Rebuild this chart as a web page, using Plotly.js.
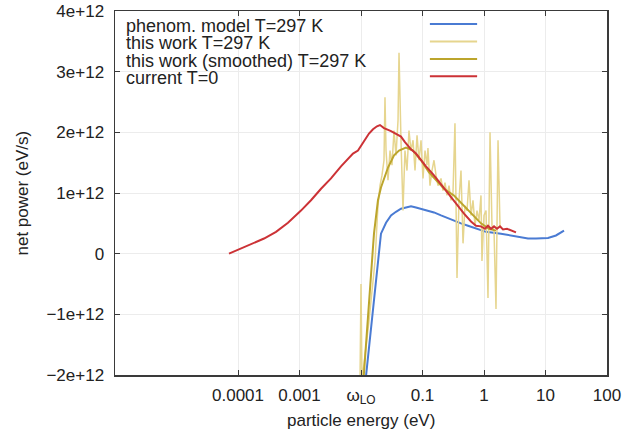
<!DOCTYPE html>
<html>
<head>
<meta charset="utf-8">
<script src="https://cdn.plot.ly/plotly-3.0.1.min.js"></script>
<style>html,body{margin:0;padding:0;background:#fff;}#chart{width:637px;height:436px;}</style>
</head>
<body>
<div id="chart"></div>
<script>
// values in units of 1e12 eV/s, energies in eV
const phenomE = [0.01161,0.02113,0.02552,0.03076,0.03707,0.04467,0.05395,0.06501,0.07834,0.09462,0.1140,0.1538,0.2000,0.2904,0.4227,0.5495,0.7413,1.079,1.888,2.748,4.00,5.19,7.01,10.99,14.8,20.0];
const phenomP = [-2.18,0.33,0.51,0.63,0.69,0.74,0.76,0.78,0.76,0.74,0.71,0.68,0.63,0.56,0.50,0.46,0.41,0.36,0.33,0.30,0.26,0.25,0.25,0.26,0.30,0.38];

const rawE = [0.00964,0.0100,0.01038,0.01349,0.01691,0.01887,0.02037,0.02193,0.02366,0.02455,0.02552,0.02748,0.02965,0.03192,0.03443,0.03707,0.04000,0.04150,0.04467,0.04819,0.05188,0.05598,0.06026,0.06501,0.07015,0.07551,0.08147,0.08770,0.09462,0.1019,0.1099,0.1183,0.1227,0.1324,0.1426,0.1538,0.1660,0.1786,0.2000,0.2153,0.2323,0.2500,0.2698,0.2904,0.3133,0.3373,0.3639,0.3917,0.4227,0.4560,0.4909,0.5297,0.5702,0.6152,0.6622,0.7145,0.7691,0.8299,0.8933,0.9268,1.000,1.079,1.161,1.253,1.349,1.455,1.567,1.690,1.820,1.963];
const rawP = [-2.10,-0.50,-2.10,-1.11,-0.12,0.79,1.12,1.29,1.54,2.58,1.70,1.21,1.70,1.46,2.03,1.62,2.20,3.31,1.87,0.71,1.70,1.37,2.03,1.70,1.87,1.37,1.95,1.54,1.87,1.24,1.70,1.46,1.74,1.12,1.37,1.54,1.29,1.12,1.24,1.04,1.17,0.96,1.12,0.88,1.01,2.15,-0.40,0.88,1.37,0.17,0.79,0.71,1.21,0.63,0.88,0.46,0.71,0.55,0.96,-0.12,0.63,0.71,-0.73,2.00,0.46,0.38,-0.91,1.87,0.46,0.41];

const smoothE = [0.01079,0.01626,0.01887,0.02113,0.02748,0.03443,0.04150,0.05395,0.07015,0.09462,0.1276,0.1660,0.2239,0.3251,0.4732,0.6622,0.8933,1.205,1.567];
const smoothP = [-2.18,0.33,0.88,1.09,1.42,1.62,1.70,1.75,1.70,1.54,1.34,1.21,1.07,0.96,0.79,0.63,0.50,0.41,0.38];

const currentE = [7.14e-5,1.349e-4,2.65e-4,4.15e-4,6.50e-4,1.057e-3,1.538e-3,2.239e-3,3.25e-3,4.73e-3,6.15e-3,7.41e-3,8.93e-3,0.01079,0.01349,0.01567,0.01820,0.02037,0.02366,0.03076,0.03846,0.04467,0.05188,0.06501,0.07834,0.09462,0.1140,0.1538,0.2000,0.2600,0.3508,0.4732,0.6152,0.7413,0.8933,1.038,1.161,1.300,1.455,1.626,1.820,2.036,2.366,2.748,3.311];
const currentP = [0.00,0.12,0.25,0.36,0.51,0.71,0.88,1.07,1.24,1.44,1.57,1.65,1.70,1.82,1.98,2.05,2.10,2.12,2.07,2.02,1.97,1.93,1.84,1.72,1.65,1.54,1.44,1.29,1.14,0.99,0.83,0.66,0.53,0.46,0.45,0.41,0.46,0.41,0.45,0.41,0.45,0.40,0.41,0.38,0.35];

const seriesNames = ['phenom. model T=297 K','this work T=297 K','this work (smoothed) T=297 K','current T=0'];
const seriesColors = ['#4a7bd3','#e6d58e','#bca52c','#cc3236'];

const xTickVals = [1e-4,1e-3,1e-2,0.1,1,10,100];
const xTickText = ['0.0001','0.001','ω<sub>LO</sub>','0.1','1','10','100'];
const yTickVals = [-2e12,-1e12,0,1e12,2e12,3e12,4e12];
const yTickText = ['−2e+12','−1e+12','0','1e+12','2e+12','3e+12','4e+12'];

const S = 1e12;
const scale = a => a.map(v => v * S);
const widths = [2, 1.5, 2, 2];
const data = [
  {x: phenomE, y: scale(phenomP)},
  {x: rawE, y: scale(rawP)},
  {x: smoothE, y: scale(smoothP)},
  {x: currentE, y: scale(currentP)}
].map((t, i) => Object.assign(t, {type: 'scatter', mode: 'lines', name: seriesNames[i],
  line: {color: seriesColors[i], width: widths[i]}, hoverinfo: 'skip'}));

const FONT = 'Liberation Sans, Arial, Helvetica, sans-serif';
const legY = [0.960, 0.912, 0.864, 0.817];
const annotations = seriesNames.map((n, i) => ({
  xref: 'paper', yref: 'paper', x: 0.019, y: legY[i], xanchor: 'left', yanchor: 'middle',
  text: n, showarrow: false, font: {family: FONT, size: 18, color: '#222'}
}));
annotations.push({xref: 'paper', yref: 'paper', x: 0.5, y: -0.125, xanchor: 'center', yanchor: 'middle',
  text: 'particle energy (eV)', showarrow: false, font: {family: FONT, size: 17, color: '#222'}});
annotations.push({xref: 'paper', yref: 'paper', x: -0.19, y: 0.5, xanchor: 'center', yanchor: 'middle', textangle: -90,
  text: 'net power (eV/s)', showarrow: false, font: {family: FONT, size: 17, color: '#222'}});

const shapes = [{type: 'rect', xref: 'paper', yref: 'paper', x0: 0, x1: 0.756, y0: 0.788, y1: 1,
  fillcolor: '#fff', line: {width: 0}, layer: 'between'}];
seriesNames.forEach((n, i) => shapes.push({type: 'line', xref: 'paper', yref: 'paper',
  x0: 0.640, x1: 0.736, y0: legY[i] + 0.004, y1: legY[i] + 0.004,
  line: {color: seriesColors[i], width: 2}, layer: 'above'}));

const axisCommon = {showline: true, linecolor: '#3a3a3a', linewidth: 1.5, mirror: 'ticks', ticks: 'inside',
  ticklen: 5, tickcolor: '#3a3a3a', tickwidth: 1, showgrid: true, gridcolor: '#ececec', gridwidth: 1,
  zeroline: false, tickfont: {family: FONT, size: 17, color: '#222'}};

const layout = {
  width: 637, height: 436,
  margin: {l: 115, r: 30, t: 11, b: 61},
  paper_bgcolor: '#fff', plot_bgcolor: '#fff',
  showlegend: false,
  xaxis: Object.assign({}, axisCommon, {type: 'log', range: [-6, 2], tickmode: 'array',
    tickvals: xTickVals, ticktext: xTickText, ticklabelstandoff: 4}),
  yaxis: Object.assign({}, axisCommon, {range: [-2e12, 4e12], tickmode: 'array',
    tickvals: yTickVals, ticktext: yTickText, ticklabelstandoff: 6}),
  annotations: annotations,
  shapes: shapes
};

Plotly.newPlot('chart', data, layout, {staticPlot: true, displayModeBar: false});
</script>
</body>
</html>
